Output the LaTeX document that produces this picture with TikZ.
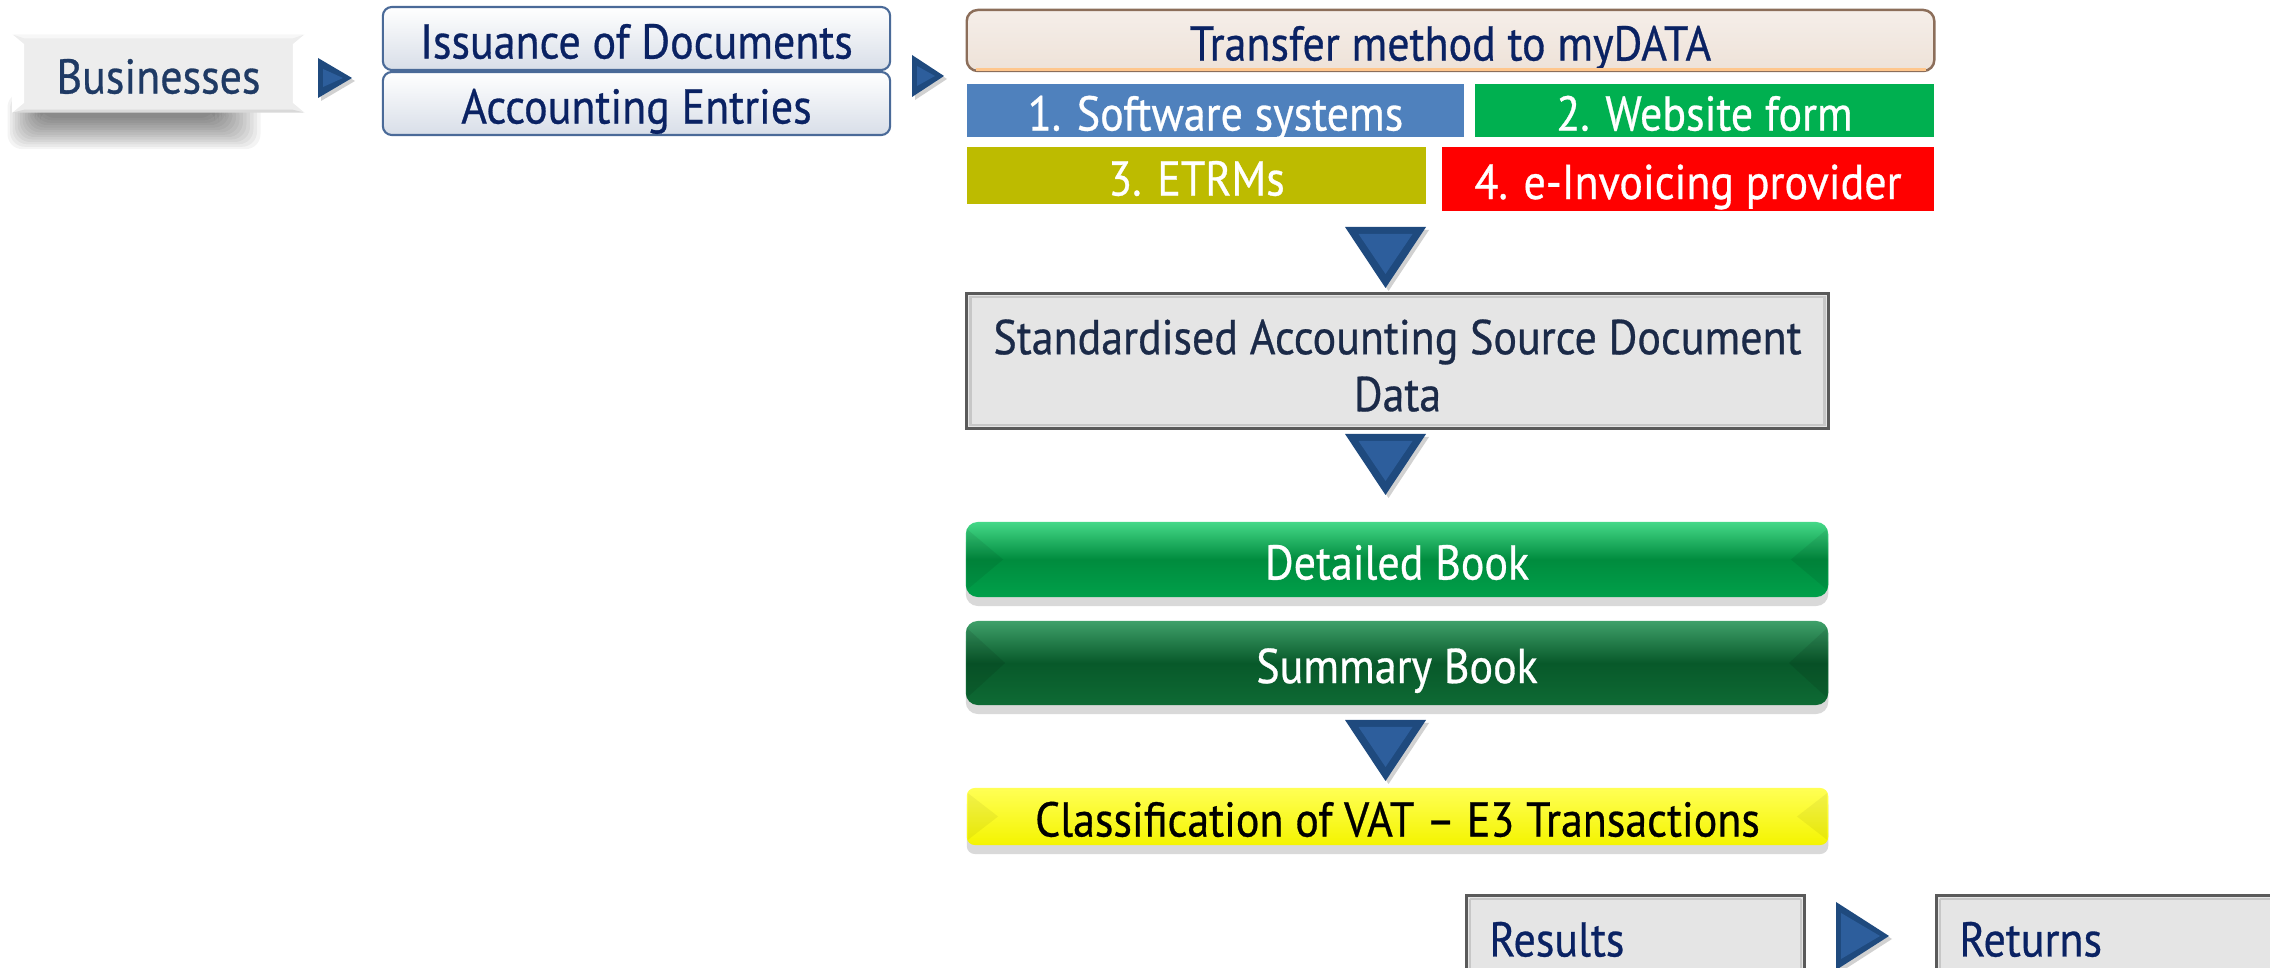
\documentclass[tikz,border=0pt]{standalone}
\usepackage{fontspec}
\setmainfont{PT Sans}[FakeStretch=0.9, FakeBold=0.6]
\usetikzlibrary{shadows,calc}
\definecolor{navy}{HTML}{0A2263}
\definecolor{busnavy}{HTML}{1F3A64}
\definecolor{stdtext}{HTML}{1B2A48}
\definecolor{issborder}{HTML}{4A6A98}
\definecolor{issbot}{HTML}{D8DEE8}
\definecolor{trborder}{HTML}{8C6E5A}
\definecolor{trtop}{HTML}{F5EEE9}
\definecolor{trbot}{HTML}{EEE2D8}
\definecolor{swblue}{HTML}{4F81BD}
\definecolor{webgreen}{HTML}{00B050}
\definecolor{etrolive}{HTML}{BDBB00}
\definecolor{einvred}{HTML}{FF0000}
\definecolor{grayfill}{HTML}{E5E5E5}
\definecolor{grayborder}{HTML}{5A5A5A}
\definecolor{arrowdark}{HTML}{1F4A7E}
\definecolor{arrowlight}{HTML}{2D5E9C}
\definecolor{dettop}{HTML}{45D888}
\definecolor{detmid}{HTML}{008C3E}
\definecolor{detbot}{HTML}{00A04A}
\definecolor{sumtop}{HTML}{3FA06A}
\definecolor{summid}{HTML}{08592A}
\definecolor{sumbot}{HTML}{0E6A34}
\definecolor{clstop}{HTML}{FFFF55}
\definecolor{clsbot}{HTML}{F4F400}
\newcommand\mydtri[2]{%
  \fill[black,opacity=0.18] (#1-40.5+3,#2+3) -- (#1+40.5+3,#2+3) -- (#1+3,#2+64) -- cycle;
  \fill[arrowdark] (#1-40.5,#2) -- (#1+40.5,#2) -- (#1,#2+61) -- cycle;
  \fill[arrowlight] (#1-27,#2+7) -- (#1+27,#2+7) -- (#1,#2+47) -- cycle;}
\newcommand\myrtri[4]{%
  \fill[black,opacity=0.18] (#1+3,#2-#4+3) -- (#1+#3+3,#2+3) -- (#1+3,#2+#4+3) -- cycle;
  \fill[arrowdark] (#1,#2-#4) -- (#1+#3,#2) -- (#1,#2+#4) -- cycle;
  \fill[arrowlight] (#1+5,#2-#4+11) -- (#1+#3-9,#2) -- (#1+5,#2+#4-11) -- cycle;}
\tikzset{
  boxbase/.style={inner sep=0pt, align=center},
  oneline/.style={text height=11.4pt, text depth=0pt},
  busbox/.style={boxbase, oneline, fill=white!93!black, text=busnavy},
  issbox/.style={boxbase, oneline, draw=issborder, line width=0.6pt, rounded corners=0.09cm,
    top color=white, bottom color=issbot, text=navy,
    minimum width=5.07cm, minimum height=0.63cm},
  trbox/.style={boxbase, oneline, draw=trborder, line width=0.7pt, rounded corners=0.11cm,
    top color=trtop, bottom color=trbot, text=navy},
  flatbox/.style={boxbase, oneline, text=white},
  graybox/.style={boxbase, fill=grayfill, draw=grayborder, line width=0.8pt},
  glossy/.style={boxbase, oneline, rounded corners=0.12cm,
    drop shadow={shadow xshift=0pt, shadow yshift=-0.9mm, opacity=0.3}},
}
\begin{document}
\begin{tikzpicture}[x=0.01cm, y=-0.01cm, font=\fontsize{13.9}{16.2}\selectfont]
\useasboundingbox (0,0) rectangle (2270,968);
\clip (0,0) rectangle (2270,968);

% Businesses shadow
\foreach \k in {0,...,13} {
  \fill[black, opacity=0.042, rounded corners=0.15cm]
    (40-2.5*\k, 108-1.2*\k) rectangle (215+3.5*\k, 118+2.4*\k);
}
% Businesses box
\node[busbox, minimum width=2.91cm, minimum height=0.77cm] (bus) at (158.5,73.5) {Businesses};
\fill[white] (bus.north west) -- ($(bus.north west)+(12,10)$) -- ($(bus.south west)+(12,-10)$) -- (bus.south west) -- cycle;
\fill[white] (bus.north east) -- ($(bus.north east)+(-12,10)$) -- ($(bus.south east)+(-12,-10)$) -- (bus.south east) -- cycle;
\fill[white!97!black] (bus.north west) -- (bus.north east) -- ($(bus.north east)+(-12,4)$) -- ($(bus.north west)+(12,4)$) -- cycle;
\fill[white!85!black] (bus.south west) -- (bus.south east) -- ($(bus.south east)+(-12,-3)$) -- ($(bus.south west)+(12,-3)$) -- cycle;

\myrtri{318}{78}{34}{20}

% Issuance / Accounting
\node[issbox] (iss) at (636.5,38.5) {Issuance of Documents};
\node[issbox] (acc) at (636.5,103.5) {Accounting Entries};

\myrtri{912}{76}{32}{21}

% Transfer method
\node[trbox, minimum width=9.67cm, minimum height=0.61cm] (tr) at (1450.5,40.5) {Transfer method to myDATA};
\draw[orange!45!white, line width=0.8pt] ($(tr.south west)+(10,-3)$) -- ($(tr.south east)+(-10,-3)$);

\node[flatbox, fill=swblue, minimum width=4.97cm, minimum height=0.53cm] (sw) at (1215.5,110.5) {1. Software systems};
\node[flatbox, fill=webgreen, minimum width=4.59cm, minimum height=0.53cm] (web) at (1704.5,110.5) {2. Website form};
\node[flatbox, fill=etrolive, minimum width=4.59cm, minimum height=0.57cm] (etr) at (1196.5,175.5) {3. ETRMs};
\node[flatbox, fill=einvred, minimum width=4.92cm, minimum height=0.64cm] (einv) at (1688,179) {4. e-Invoicing provider};

\mydtri{1385.5}{227}

% Standardised
\node[graybox, minimum width=8.61cm, minimum height=1.35cm, text=stdtext] (std) at (1397.5,361)
  {\rule{0pt}{12.5pt}Standardised Accounting Source Document\\Data};
\draw[white!78!black, line width=0.8pt] ($(std.north west)+(5,5)$) rectangle ($(std.south east)+(-5,-5)$);

\mydtri{1385.5}{434}

% Detailed Book
\node[glossy, top color=dettop, bottom color=detbot, middle color=detmid, text=white,
  minimum width=8.62cm, minimum height=0.75cm] (det) at (1397,559.5) {Detailed Book};
\fill[black, opacity=0.07] ($(det.north west)+(2,8)$) -- ($(det.west)+(38,0)$) -- ($(det.south west)+(2,-8)$) -- cycle;
\fill[black, opacity=0.07] ($(det.north east)+(-2,8)$) -- ($(det.east)+(-38,0)$) -- ($(det.south east)+(-2,-8)$) -- cycle;

% Summary Book
\node[glossy, top color=sumtop, bottom color=sumbot, middle color=summid, text=white,
  minimum width=8.62cm, minimum height=0.84cm] (sum) at (1397,663) {Summary Book};
\fill[black, opacity=0.09] ($(sum.north west)+(2,8)$) -- ($(sum.west)+(40,0)$) -- ($(sum.south west)+(2,-8)$) -- cycle;
\fill[black, opacity=0.09] ($(sum.north east)+(-2,8)$) -- ($(sum.east)+(-40,0)$) -- ($(sum.south east)+(-2,-8)$) -- cycle;

\mydtri{1385.5}{720}

% Classification
\node[glossy, rounded corners=0.08cm, top color=clstop, bottom color=clsbot, text=black,
  minimum width=8.61cm, minimum height=0.57cm] (cls) at (1397.5,816.5) {Classification of VAT -- E3 Transactions};
\fill[black, opacity=0.05] ($(cls.north west)+(2,6)$) -- ($(cls.west)+(32,0)$) -- ($(cls.south west)+(2,-6)$) -- cycle;
\fill[black, opacity=0.05] ($(cls.north east)+(-2,6)$) -- ($(cls.east)+(-32,0)$) -- ($(cls.south east)+(-2,-6)$) -- cycle;

% Results / Returns
\node[graybox, oneline, anchor=north west, text=navy, align=left, text width=2.92cm, inner xsep=0.23cm,
  minimum height=0.82cm] (res) at (1465,894) {Results};
\draw[white!78!black, line width=0.8pt] ($(res.north west)+(5,5)$) -- ($(res.north east)+(-5,5)$);
\draw[white!78!black, line width=0.8pt] ($(res.north west)+(5,5)$) -- ($(res.south west)+(5,0)$);
\draw[white!78!black, line width=0.8pt] ($(res.north east)+(-5,5)$) -- ($(res.south east)+(-5,0)$);

\myrtri{1836}{936}{53}{34}

\node[graybox, oneline, anchor=north west, text=navy, align=left, text width=3.09cm, inner xsep=0.23cm,
  minimum height=0.82cm] (ret) at (1935,894) {Returns};
\draw[white!78!black, line width=0.8pt] ($(ret.north west)+(5,5)$) -- ($(ret.north east)+(-5,5)$);
\draw[white!78!black, line width=0.8pt] ($(ret.north west)+(5,5)$) -- ($(ret.south west)+(5,0)$);
\end{tikzpicture}
\end{document}
